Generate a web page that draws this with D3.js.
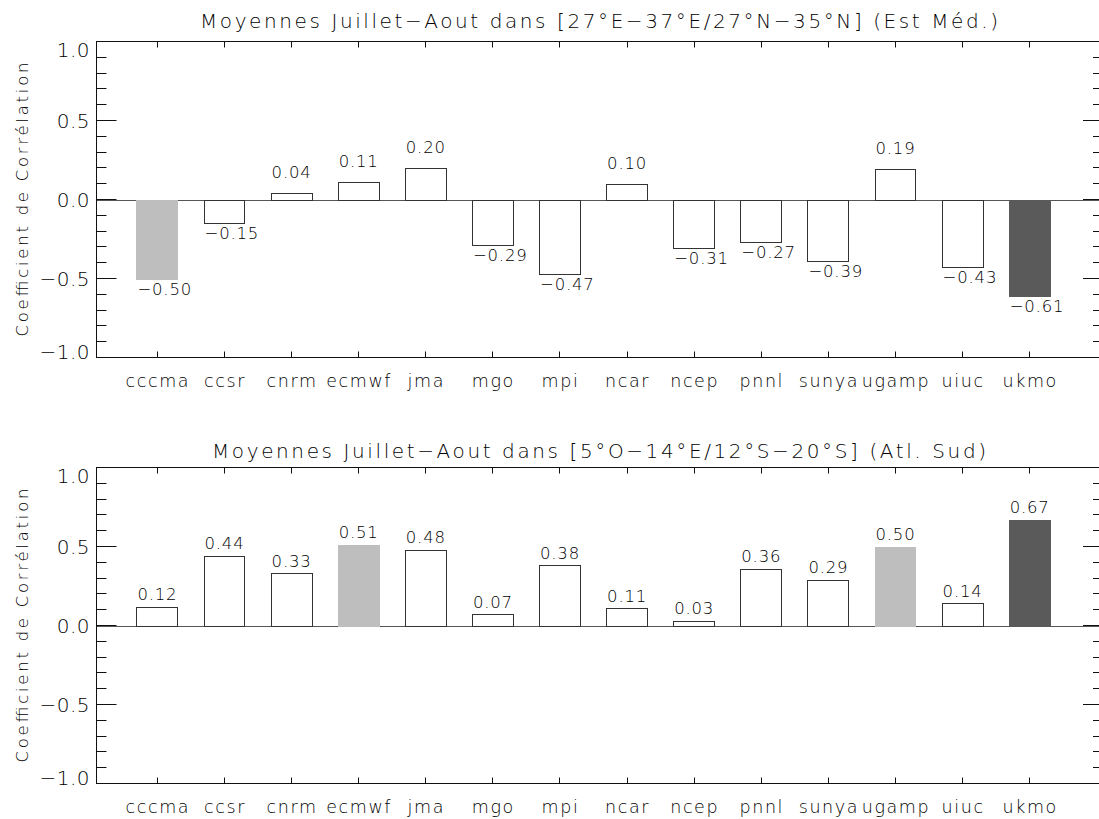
<!DOCTYPE html>
<html>
<head>
<meta charset="utf-8">
<script src="https://cdn.jsdelivr.net/npm/d3@7/dist/d3.min.js"></script>
<style>
  html, body { margin: 0; padding: 0; background: #fff; }
  svg { display: block; }
  text { font-family: "DejaVu Sans", sans-serif; font-weight: 200; fill: #000; }
</style>
</head>
<body>
<svg id="chart" width="1099" height="819"></svg>
<script>
// ---------- data ----------
const categories = ["cccma","ccsr","cnrm","ecmwf","jma","mgo","mpi","ncar","ncep","pnnl","sunya","ugamp","uiuc","ukmo"];
const titleEst = "Moyennes Juillet\u2212Aout dans [27\u00B0E\u221237\u00B0E/27\u00B0N\u221235\u00B0N] (Est M\u00E9d.)";
const titleSud = "Moyennes Juillet\u2212Aout dans [5\u00B0O\u221214\u00B0E/12\u00B0S\u221220\u00B0S] (Atl. Sud)";
const valuesEst = [-0.50,-0.15,0.04,0.11,0.20,-0.29,-0.47,0.10,-0.31,-0.27,-0.39,0.19,-0.43,-0.61];
const valuesSud = [0.12,0.44,0.33,0.51,0.48,0.07,0.38,0.11,0.03,0.36,0.29,0.50,0.14,0.67];
// highlight group: 0 = plain, 1 = light grey, 2 = dark grey
const groupEst = [1,0,0,0,0,0,0,0,0,0,0,0,0,2];
const groupSud = [0,0,0,1,0,0,0,0,0,0,0,1,0,2];
const yMajorTicks = [-1.0,-0.5,0.0,0.5,1.0];
const yMajorLabels = ["\u22121.0","\u22120.5","0.0","0.5","1.0"];
const yMinorTicks = [-0.9,-0.8,-0.7,-0.6,-0.4,-0.3,-0.2,-0.1,0.1,0.2,0.3,0.4,0.6,0.7,0.8,0.9];
const yTitle = "Coefficient de Corr\u00E9lation";

// ---------- layout ----------
const svg = d3.select("#chart");
const left = 96.5, right = 1103;
const fills = ["#ffffff", "#bebebe", "#5a5a5a"];

const panels = [
  {title: titleEst, values: valuesEst, groups: groupEst, top: 41.5, bottom: 357.5,
   titleY: 28, titleLen: 798, posGap: 15, negGap: 16, catY: 386.5},
  {title: titleSud, values: valuesSud, groups: groupSud, top: 467.5, bottom: 783.5,
   titleY: 458, titleLen: 774, posGap: 6.5, negGap: 16, catY: 813}
];

const x = d3.scaleLinear().domain([-0.9, 14.1]).range([left, right]);
const barHalf = 0.305;
const fmt = v => d3.format(".2f")(v).replace("-", "\u2212");

panels.forEach(p => {
  const y = d3.scaleLinear().domain([-1, 1]).range([p.bottom, p.top]);
  const g = svg.append("g");

  // title
  g.append("text")
    .attr("x", 599).attr("y", p.titleY)
    .attr("text-anchor", "middle")
    .attr("font-size", 20)
    .attr("textLength", p.titleLen)
    .attr("lengthAdjust", "spacing")
    .text(p.title);

  // zero line
  g.append("line")
    .attr("x1", left).attr("x2", right)
    .attr("y1", Math.round(y(0)) + 0.5).attr("y2", Math.round(y(0)) + 0.5)
    .attr("stroke", "#555").attr("stroke-width", 1);

  // bars
  g.selectAll("rect.bar").data(p.values).enter().append("rect")
    .attr("class", "bar")
    .attr("x", (d, i) => Math.round(x(i - barHalf)) + 0.5)
    .attr("width", (d, i) => Math.round(x(i + barHalf)) - Math.round(x(i - barHalf)))
    .attr("y", d => Math.round(Math.min(y(d), y(0))) + 0.5)
    .attr("height", d => Math.abs(Math.round(y(d)) - Math.round(y(0))))
    .attr("fill", (d, i) => fills[p.groups[i]])
    .attr("stroke", (d, i) => p.groups[i] === 0 ? "#333" : fills[p.groups[i]])
    .attr("stroke-width", 1);

  // value labels (left-aligned near bar's left edge)
  g.selectAll("text.val").data(p.values).enter().append("text")
    .attr("class", "val")
    .attr("x", (d, i) => x(i - barHalf) + 1)
    .attr("y", d => d >= 0 ? y(d) - p.posGap : y(d) + p.negGap)
    .attr("font-size", 16.5)
    .attr("letter-spacing", 0.8)
    .text(d => fmt(d));

  // frame
  g.append("rect")
    .attr("x", left).attr("y", p.top)
    .attr("width", right - left).attr("height", p.bottom - p.top)
    .attr("fill", "none").attr("stroke", "#111").attr("stroke-width", 1);

  // y major ticks (both sides)
  yMajorTicks.forEach((t, k) => {
    const yy = Math.round(y(t) - 0.5) + 0.5;
    g.append("line").attr("x1", left).attr("x2", left + 20).attr("y1", yy).attr("y2", yy)
      .attr("stroke", "#111");
    g.append("line").attr("x1", right - 20).attr("x2", right).attr("y1", yy).attr("y2", yy)
      .attr("stroke", "#111");
    const base = Math.max(p.top + 15, Math.min(p.bottom + 1, y(t) + 7.3));
    g.append("text")
      .attr("x", 90).attr("y", base)
      .attr("text-anchor", "end")
      .attr("font-size", 20)
      .attr("letter-spacing", 0.5)
      .text(yMajorLabels[k]);
  });
  // y minor ticks
  yMinorTicks.forEach(t => {
    const yy = Math.round(y(t) - 0.5) + 0.5;
    g.append("line").attr("x1", left).attr("x2", left + 10).attr("y1", yy).attr("y2", yy)
      .attr("stroke", "#111");
    g.append("line").attr("x1", right - 10).attr("x2", right).attr("y1", yy).attr("y2", yy)
      .attr("stroke", "#111");
  });

  // x ticks (top and bottom) and category labels
  categories.forEach((c, i) => {
    const xx = Math.round(x(i)) + 0.5;
    g.append("line").attr("x1", xx).attr("x2", xx).attr("y1", p.top).attr("y2", p.top + 6)
      .attr("stroke", "#111");
    g.append("line").attr("x1", xx).attr("x2", xx).attr("y1", p.bottom).attr("y2", p.bottom - 6)
      .attr("stroke", "#111");
    g.append("text")
      .attr("x", x(i) + 1).attr("y", p.catY)
      .attr("text-anchor", "middle")
      .attr("font-size", 17.5)
      .attr("letter-spacing", 1.6)
      .text(c);
  });

  // y axis title
  const cy = (p.top + p.bottom) / 2;
  g.append("text")
    .attr("transform", `translate(28,${cy}) rotate(-90)`)
    .attr("text-anchor", "middle")
    .attr("font-size", 16.5)
    .attr("textLength", 274)
    .attr("lengthAdjust", "spacing")
    .text(yTitle);
});
</script>
</body>
</html>
